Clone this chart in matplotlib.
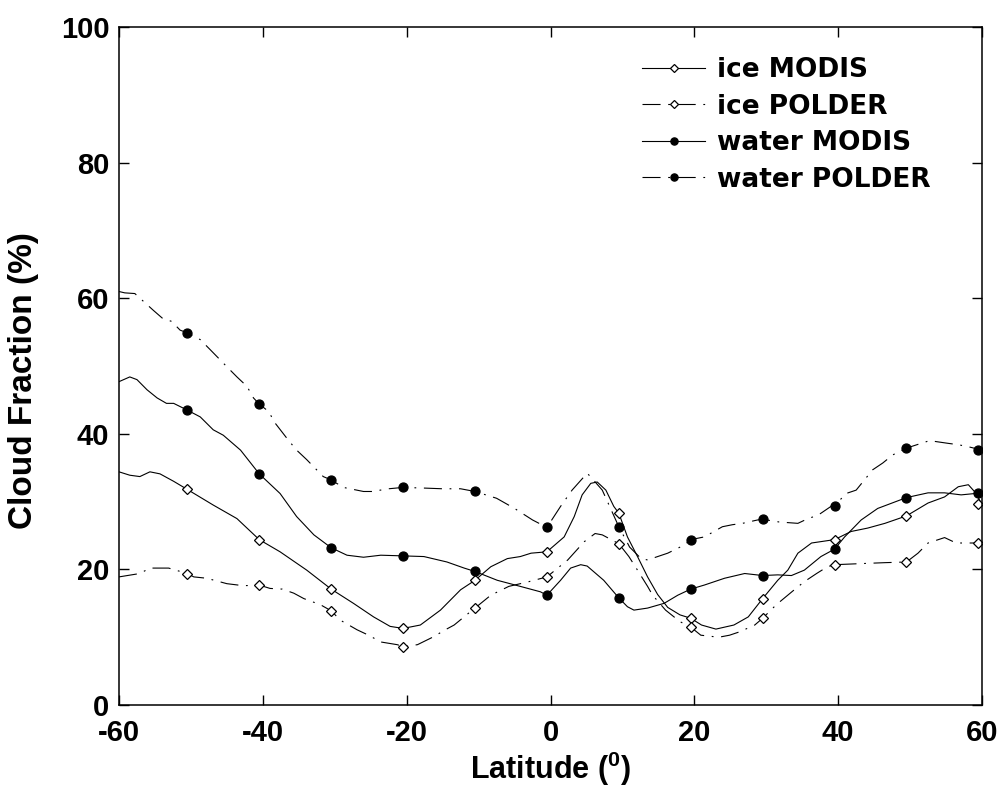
import matplotlib
matplotlib.use("Agg")
import matplotlib.pyplot as plt
from matplotlib.lines import Line2D

plt.rcParams['font.family'] = ['Liberation Sans', 'DejaVu Sans']
plt.rcParams['font.weight'] = 'bold'
plt.rcParams['mathtext.fontset'] = 'custom'
plt.rcParams['mathtext.rm'] = 'Liberation Sans:bold'
plt.rcParams['mathtext.bf'] = 'Liberation Sans:bold'
plt.rcParams['lines.scale_dashes'] = False
plt.rcParams['axes.unicode_minus'] = False

# ---------------- data ----------------
marker_lat = [-50.5, -40.5, -30.5, -20.5, -10.5, -0.5, 9.5, 19.5, 29.5, 39.5, 49.5, 59.5]
ice_modis_pts = [31.8, 24.4, 17.1, 11.3, 18.4, 22.6, 28.3, 12.8, 15.7, 24.4, 27.9, 29.7]
ice_polder_pts = [19.4, 17.7, 13.9, 8.6, 14.3, 18.9, 23.8, 11.5, 12.8, 20.7, 21.1, 23.9]
water_modis_pts = [43.5, 34.1, 23.2, 22.0, 19.7, 16.2, 15.8, 17.1, 19.1, 23.0, 30.6, 31.3]
water_polder_pts = [54.9, 44.4, 33.2, 32.1, 31.5, 26.2, 26.3, 24.4, 27.4, 29.4, 37.9, 37.6]

ice_modis_lat = [-60, -58.5, -57.1, -55.7, -54.3, -52.4, -50.5, -46.9, -43.6, -40.5, -37.6, -33.9,
                 -30.5, -27.4, -24.6, -22.3, -20.5, -18.1, -15.3, -12.5, -10.5, -8.3, -6.0, -4.2,
                 -2.7, -0.5, 1.9, 3.3, 4.4, 5.6, 6.5, 7.7, 8.8, 9.5, 10.7, 12.1, 13.5, 14.9, 16.3,
                 18.0, 19.5, 21.0, 23.0, 25.5, 27.5, 29.5, 31.6, 33.0, 34.4, 36.3, 39.5, 41.8,
                 44.1, 46.5, 49.5, 52.5, 54.8, 56.7, 58.1, 59.2, 60]
ice_modis_val = [34.4, 33.9, 33.7, 34.4, 34.1, 33.0, 31.8, 29.5, 27.5, 24.4, 22.6, 19.9,
                 17.1, 15.0, 13.0, 11.6, 11.3, 11.8, 14.0, 17.0, 18.4, 20.4, 21.6, 21.9,
                 22.4, 22.6, 24.8, 27.8, 31.0, 32.7, 32.9, 31.7, 29.3, 28.3, 24.8, 21.9, 18.9, 16.3, 14.4,
                 13.3, 12.8, 11.8, 11.2, 11.8, 13.0, 15.7, 18.4, 19.9, 22.4, 23.9, 24.4, 25.6,
                 26.1, 26.8, 27.9, 29.8, 30.7, 32.2, 32.5, 31.2, 29.5]

ice_polder_lat = [-60, -57.1, -55.7, -53.1, -50.5, -49.6, -47.8, -45.0, -42.7, -40.5, -39.0, -37.3,
                  -35.7, -34.3, -32.0, -30.5, -29.2, -26.9, -25.3, -23.6, -21.3, -20.5, -18.5, -16.2,
                  -14.8, -13.4, -11.1, -10.5, -8.3, -5.8, -3.0, -0.5, 2.4, 4.7, 6.2, 7.2, 9.5, 10.9,
                  11.8, 13.5, 14.2, 16.0, 18.0, 19.5, 20.9, 23.4, 24.9, 26.3, 28.4, 29.5, 31.4, 33.9,
                  35.3, 37.0, 38.5, 39.5, 41.8, 44.1, 46.5, 49.5, 51.1, 52.5, 54.8, 56.4, 58.0, 60]
ice_polder_val = [18.9, 19.4, 20.2, 20.2, 19.4, 18.9, 18.7, 17.9, 17.6, 17.7, 17.2, 17.1,
                  16.5, 15.7, 14.8, 13.9, 12.5, 11.1, 10.3, 9.3, 8.9, 8.6, 8.9, 10.1,
                  11.0, 11.8, 13.8, 14.3, 16.2, 17.5, 18.2, 18.9, 21.4, 24.1, 25.3, 25.1, 23.8, 21.9,
                  20.4, 17.5, 16.2, 14.0, 12.3, 11.5, 10.3, 10.0, 10.3, 10.8, 11.8, 12.8, 14.8, 17.0,
                  18.2, 19.4, 20.4, 20.7, 20.8, 20.9, 21.0, 21.1, 22.4, 23.9, 24.7, 23.9, 23.9, 23.9]

water_modis_lat = [-60, -58.5, -57.5, -56.1, -54.7, -53.4, -52.4, -50.5, -48.7, -46.9, -45.5, -43.1,
                   -40.5, -37.6, -35.3, -32.9, -30.5, -28.3, -26.0, -23.6, -20.5, -17.6, -14.4, -12.0,
                   -10.5, -7.4, -4.2, -1.4, -0.5, 1.4, 2.8, 4.2, 5.1, 7.4, 9.5, 10.7, 11.6, 13.5, 15.8,
                   17.7, 19.5, 21.4, 24.2, 27.0, 29.5, 31.6, 33.5, 35.3, 37.6, 39.5, 40.9, 43.2, 45.5,
                   49.5, 52.5, 54.8, 57.1, 60]
water_modis_val = [47.7, 48.4, 48.0, 46.5, 45.3, 44.5, 44.5, 43.5, 42.5, 40.6, 39.8, 37.6,
                   34.1, 31.2, 27.8, 25.1, 23.2, 22.1, 21.8, 22.1, 22.0, 21.9, 21.1, 20.2,
                   19.7, 18.4, 17.5, 16.7, 16.2, 18.4, 20.2, 20.7, 20.5, 18.4, 15.8, 14.5, 14.0, 14.3, 15.0,
                   16.2, 17.1, 17.7, 18.7, 19.4, 19.1, 19.2, 19.1, 19.9, 21.9, 23.0, 24.8, 27.3, 29.0,
                   30.6, 31.3, 31.3, 31.0, 31.3]

water_polder_lat = [-60, -59.2, -57.8, -55.2, -53.9, -52.7, -51.5, -50.5, -48.7, -47.3, -45.0, -43.6,
                    -42.2, -41.3, -40.5, -39.2, -38.3, -36.4, -35.3, -33.9, -31.6, -30.5, -28.8, -26.0,
                    -24.8, -22.5, -20.5, -17.5, -15.0, -12.5, -10.5, -7.5, -5.0, -2.5, -0.5, 1.4, 3.0,
                    5.1, 5.8, 7.2, 9.5, 11.0, 12.6, 13.5, 14.9, 16.3, 18.6, 19.5, 21.4, 23.9, 25.3, 26.7,
                    28.8, 29.5, 31.8, 34.4, 35.8, 37.2, 39.0, 39.5, 41.1, 42.5, 44.8, 46.2, 47.6, 49.5,
                    52.7, 55.3, 56.7, 58.1, 60]
water_polder_val = [61.0, 60.8, 60.7, 58.2, 57.0, 56.6, 55.3, 54.9, 53.9, 52.4, 49.9, 48.4,
                    47.0, 45.3, 44.4, 43.3, 41.6, 39.0, 37.6, 36.2, 33.7, 33.2, 32.1, 31.5,
                    31.5, 31.9, 32.1, 32.0, 31.9, 31.9, 31.5, 30.5, 29.0, 27.3, 26.2, 29.3, 31.7,
                    34.2, 33.4, 31.7, 26.3, 23.3, 21.6, 21.4, 21.9, 22.4, 23.6, 24.4, 24.8, 26.3, 26.6, 26.8,
                    27.3, 27.4, 27.0, 26.8, 27.5, 28.0, 29.3, 29.4, 31.2, 31.7, 34.7, 35.7, 36.9, 37.9,
                    39.0, 38.6, 38.4, 38.1, 37.6]

labels = ['ice MODIS', 'ice POLDER', 'water MODIS', 'water POLDER']
x_ticks = [-60, -40, -20, 0, 20, 40, 60]
y_ticks = [0, 20, 40, 60, 80, 100]

# ---------------- style ----------------
DASHDOT = (0, (13, 5.5, 1.3, 5.5))
LW = 0.8
series = [
    (ice_modis_lat, ice_modis_val, ice_modis_pts, '-', 'D', 'white', 5.3),
    (ice_polder_lat, ice_polder_val, ice_polder_pts, DASHDOT, 'D', 'white', 5.3),
    (water_modis_lat, water_modis_val, water_modis_pts, '-', 'o', 'black', 6.5),
    (water_polder_lat, water_polder_val, water_polder_pts, DASHDOT, 'o', 'black', 6.5),
]

fig = plt.figure(figsize=(10, 7.91), dpi=100)
ax = fig.add_axes([0.119, 0.1087, 0.863, 0.857])

handles = []
for lat, val, pts, ls, mk, fc, ms in series:
    ax.plot(lat, val, color='black', lw=LW, linestyle=ls)
    ax.plot(marker_lat, pts, linestyle='none', marker=mk, markersize=ms,
            markerfacecolor=fc, markeredgecolor='black', markeredgewidth=0.9)
    handles.append(Line2D([], [], color='black', lw=LW, linestyle=ls, marker=mk,
                          markersize=ms * 0.8, markerfacecolor=fc,
                          markeredgecolor='black', markeredgewidth=0.9))

ax.set_xlim(-60, 60)
ax.set_ylim(0, 100)
ax.set_xticks(x_ticks)
ax.set_yticks(y_ticks)
ax.tick_params(direction='in', length=7, width=1, top=True, right=True,
               labelsize=21, pad=7)
ax.tick_params(axis='x', pad=10)
for sp in ax.spines.values():
    sp.set_linewidth(1.1)

ax.set_xlabel('Latitude ($^{0}$)', fontsize=22, fontweight='bold', labelpad=2)
ax.set_ylabel('Cloud Fraction (%)', fontsize=24, fontweight='bold')
ax.yaxis.set_label_coords(-0.093, 0.479)

leg = ax.legend(handles, labels, loc='upper left',
                bbox_to_anchor=(0.642, 1 - 57 / 791), bbox_transform=fig.transFigure,
                frameon=False, borderpad=0, borderaxespad=0,
                handlelength=2.4, handletextpad=0.45, labelspacing=0.4,
                prop={'family': 'DejaVu Sans', 'weight': 'bold', 'size': 19})

fig.savefig('out.png', dpi=100)
